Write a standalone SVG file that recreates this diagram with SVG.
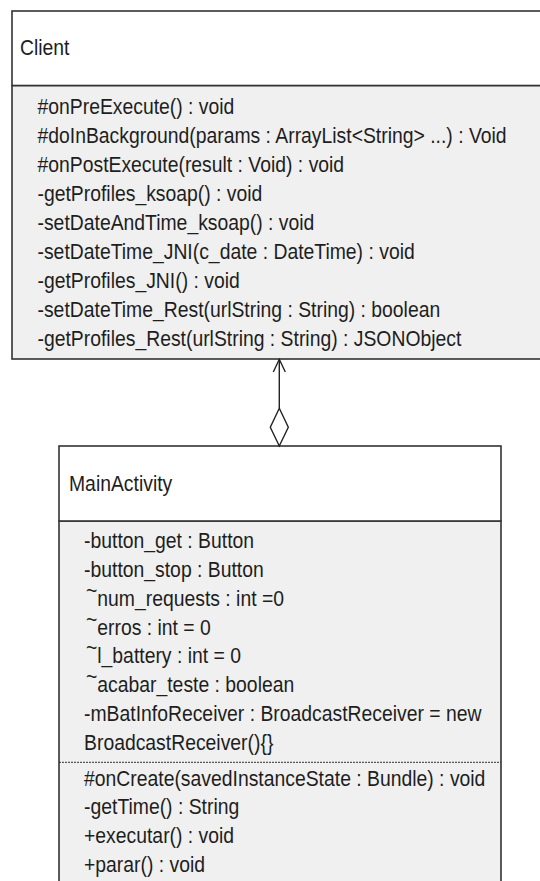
<svg xmlns="http://www.w3.org/2000/svg" width="540" height="881" viewBox="0 0 540 881">
  <style>
    .hdr { fill: #ffffff; stroke: #333333; stroke-width: 1.6; }
    .body { fill: #f0f0f0; stroke: #333333; stroke-width: 1.6; }
    .t { font-family: "Liberation Sans", Arial, sans-serif; font-size: 22px; fill: #1e1e1e; }
    .conn { fill: none; stroke: #222222; stroke-width: 1.4; }
    .sep { stroke: #333333; stroke-width: 1; stroke-dasharray: 2 1; }
  </style>
  <rect width="540" height="881" fill="#ffffff"/>
  <g id="Client">
    <rect class="body" x="12" y="85.5" width="540" height="273.5"/>
    <rect class="hdr" x="12" y="11" width="540" height="74.5"/>
    <g transform="scale(0.88 1)">
      <text class="t" x="22.7" y="55.5">Client</text>
      <text class="t" x="42.6" y="114">#onPreExecute() : void</text>
      <text class="t" x="42.6" y="143">#doInBackground(params : ArrayList&lt;String&gt; ...) : Void</text>
      <text class="t" x="42.6" y="172">#onPostExecute(result : Void) : void</text>
      <text class="t" x="42.6" y="201">-getProfiles_ksoap() : void</text>
      <text class="t" x="42.6" y="230">-setDateAndTime_ksoap() : void</text>
      <text class="t" x="42.6" y="259">-setDateTime_JNI(c_date : DateTime) : void</text>
      <text class="t" x="42.6" y="288">-getProfiles_JNI() : void</text>
      <text class="t" x="42.6" y="317">-setDateTime_Rest(urlString : String) : boolean</text>
      <text class="t" x="42.6" y="346">-getProfiles_Rest(urlString : String) : JSONObject</text>
    </g>
  </g>
  <g id="MainActivity">
    <rect class="body" x="59" y="521" width="442" height="370"/>
    <rect class="hdr" x="59" y="446" width="442" height="75"/>
    <g transform="scale(0.88 1)">
      <text class="t" x="78.4" y="491.3">MainActivity</text>
      <text class="t" x="95.5" y="548.3">-button_get : Button</text>
      <text class="t" x="95.5" y="577.1">-button_stop : Button</text>
      <text class="t" x="97.7" y="605.9"><tspan dy="-8">~</tspan><tspan dy="8">num_requests : int =0</tspan></text>
      <text class="t" x="97.7" y="634.7"><tspan dy="-8">~</tspan><tspan dy="8">erros : int = 0</tspan></text>
      <text class="t" x="97.7" y="663.5"><tspan dy="-8">~</tspan><tspan dy="8">l_battery : int = 0</tspan></text>
      <text class="t" x="97.7" y="692.3"><tspan dy="-8">~</tspan><tspan dy="8">acabar_teste  : boolean</tspan></text>
      <text class="t" x="95.5" y="721.1">-mBatInfoReceiver : BroadcastReceiver = new</text>
      <text class="t" x="95.5" y="749.9">BroadcastReceiver(){}</text>
      <text class="t" x="95.5" y="786">#onCreate(savedInstanceState : Bundle) : void</text>
      <text class="t" x="95.5" y="814.5">-getTime() : String</text>
      <text class="t" x="95.5" y="843.2">+executar() : void</text>
      <text class="t" x="95.5" y="871.8">+parar() : void</text>
    </g>
    <line class="sep" x1="59" y1="762.3" x2="501" y2="762.3"/>
  </g>
  <g id="connectors">
    <line class="conn" x1="279.3" y1="408.3" x2="279.3" y2="359"/>
    <polyline class="conn" points="273.3,372 279.3,359.3 285.3,372"/>
    <polygon class="conn" points="279.3,408.3 288.3,427.3 279.3,446 270.3,427.3" fill="#ffffff"/>
  </g>
</svg>
